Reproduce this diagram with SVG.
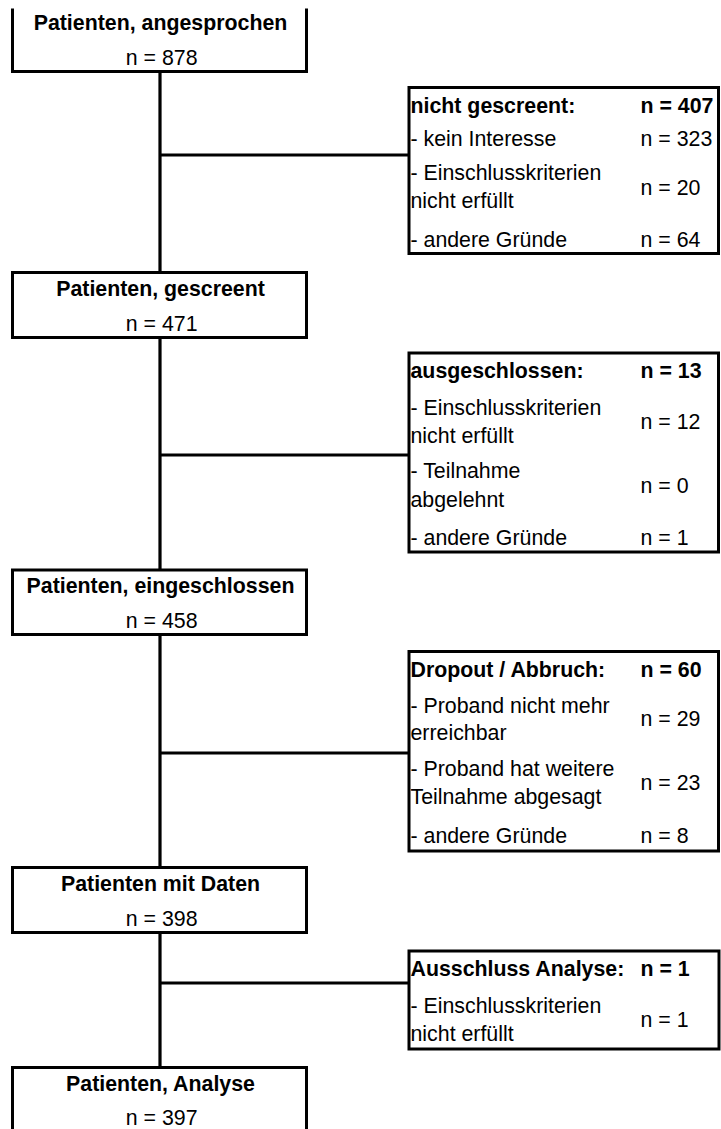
<svg xmlns="http://www.w3.org/2000/svg" width="721" height="1129" viewBox="0 0 721 1129">
<style>
text{font-family:"Liberation Sans",Arial,sans-serif;font-size:21.33px;fill:#000}
.b{font-weight:bold}
.c{text-anchor:middle}
.box{fill:#fff;stroke:#000;stroke-width:3}
.ln{fill:none;stroke:#000;stroke-width:3.2}
</style>
<rect width="721" height="1129" fill="#fff"/>
<g id="connectors">
<path class="ln" d="M160,71.5V272.5M160,337.5V570M160,634.5V867.5M160,932.5V1067.5"/>
<path class="ln" d="M160,155H409M160,455H409M160,753H409M160,983H409"/>
</g>
<g id="n1">
<path class="box" d="M12.5,8.5V71.5H306.5V8.5"/>
<text class="b c" x="160.5" y="29.5">Patienten, angesprochen</text>
<text class="c" x="161.7" y="64.5">n = 878</text>
</g>
<g id="x1">
<rect class="box" x="409" y="87.5" width="309.5" height="166"/>
<text class="b" x="410.5" y="112.5">nicht gescreent:</text><text class="b" x="640.5" y="112.5">n = 407</text>
<text x="410.5" y="145.5">- kein Interesse</text><text x="640.5" y="145.5">n = 323</text>
<text x="410.5" y="180">- Einschlusskriterien</text><text x="410.5" y="208">nicht erfüllt</text><text x="640.5" y="194.5">n = 20</text>
<text x="410.5" y="246.5">- andere Gründe</text><text x="640.5" y="246.5">n = 64</text>
</g>
<g id="n2">
<rect class="box" x="12.5" y="272.5" width="294" height="65"/>
<text class="b c" x="160.5" y="295.5">Patienten, gescreent</text>
<text class="c" x="161.7" y="330.5">n = 471</text>
</g>
<g id="x2">
<rect class="box" x="409" y="353" width="309.5" height="199"/>
<text class="b" x="410.5" y="378">ausgeschlossen:</text><text class="b" x="640.5" y="378">n = 13</text>
<text x="410.5" y="415">- Einschlusskriterien</text><text x="410.5" y="442.5">nicht erfüllt</text><text x="640.5" y="429">n = 12</text>
<text x="410.5" y="478">- Teilnahme</text><text x="410.5" y="506.5">abgelehnt</text><text x="640.5" y="492.5">n = 0</text>
<text x="410.5" y="545">- andere Gründe</text><text x="640.5" y="545">n = 1</text>
</g>
<g id="n3">
<rect class="box" x="12.5" y="570" width="294" height="64.5"/>
<text class="b c" x="160.5" y="593">Patienten, eingeschlossen</text>
<text class="c" x="161.7" y="628">n = 458</text>
</g>
<g id="x3">
<rect class="box" x="409" y="651.5" width="309.5" height="199.5"/>
<text class="b" x="410.5" y="676.5">Dropout / Abbruch:</text><text class="b" x="640.5" y="676.5">n = 60</text>
<text x="410.5" y="712.5">- Proband nicht mehr</text><text x="410.5" y="740">erreichbar</text><text x="640.5" y="726">n = 29</text>
<text x="410.5" y="776">- Proband hat weitere</text><text x="410.5" y="804">Teilnahme abgesagt</text><text x="640.5" y="790">n = 23</text>
<text x="410.5" y="843">- andere Gründe</text><text x="640.5" y="843">n = 8</text>
</g>
<g id="n4">
<rect class="box" x="12.5" y="867.5" width="294" height="65"/>
<text class="b c" x="160.5" y="890.5">Patienten mit Daten</text>
<text class="c" x="161.7" y="925.5">n = 398</text>
</g>
<g id="x4">
<rect class="box" x="409" y="951" width="310" height="98"/>
<text class="b" x="410.5" y="976">Ausschluss Analyse:</text><text class="b" x="640.5" y="976">n = 1</text>
<text x="410.5" y="1013">- Einschlusskriterien</text><text x="410.5" y="1040.5">nicht erfüllt</text><text x="640.5" y="1027">n = 1</text>
</g>
<g id="n5">
<rect class="box" x="12.5" y="1067.5" width="294" height="70"/>
<text class="b c" x="160.5" y="1090.5">Patienten, Analyse</text>
<text class="c" x="161.7" y="1125">n = 397</text>
</g>
</svg>
